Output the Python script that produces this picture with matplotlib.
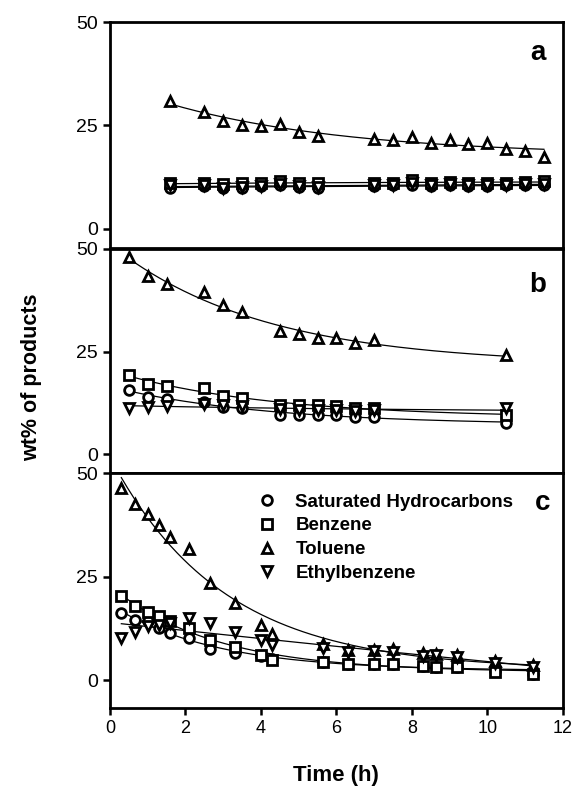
import numpy as np
import matplotlib
matplotlib.use('Agg')
import matplotlib.pyplot as plt

plt.rcParams['font.family'] = ['Liberation Sans', 'DejaVu Sans']

# ---- data ----
# panel a
time_a = [1.6, 2.5, 3, 3.5, 4, 4.5, 5, 5.5, 7, 7.5, 8, 8.5, 9, 9.5, 10, 10.5, 11, 11.5]
sat_a = [10.0, 10.3, 9.8, 10.0, 10.3, 10.5, 10.2, 10.0, 10.3, 10.5, 10.5, 10.3, 10.5, 10.3, 10.3, 10.5, 10.5, 10.6]
benz_a = [11.0, 11.0, 10.8, 11.0, 11.2, 11.5, 11.0, 11.0, 11.0, 11.2, 11.8, 11.2, 11.3, 11.2, 11.2, 11.2, 11.3, 11.5]
tol_a = [31.0, 28.3, 26.1, 25.1, 24.9, 25.3, 23.5, 22.5, 21.7, 21.6, 22.1, 20.8, 21.5, 20.5, 20.7, 19.4, 18.9, 17.3]
eth_a = [10.5, 10.5, 9.8, 10.2, 10.3, 10.8, 10.3, 10.2, 10.5, 10.6, 11.0, 10.5, 10.8, 10.5, 10.5, 10.7, 10.8, 10.9]

# panel b
time_b = [0.5, 1, 1.5, 2.5, 3, 3.5, 4.5, 5, 5.5, 6, 6.5, 7, 10.5]
sat_b = [15.7, 14.0, 13.4, 12.8, 11.6, 11.2, 9.6, 9.6, 9.6, 9.6, 9.1, 9.1, 7.7]
benz_b = [19.4, 17.2, 16.7, 16.1, 14.2, 13.6, 12.0, 12.0, 12.0, 11.8, 11.2, 11.2, 9.6]
tol_b = [48.0, 43.3, 41.5, 39.5, 36.3, 34.6, 30.0, 29.2, 28.4, 28.4, 27.1, 27.7, 24.2]
eth_b = [11.3, 11.5, 11.8, 12.2, 12.0, 11.8, 11.0, 10.8, 10.8, 10.8, 10.6, 10.8, 11.2]

# panel c
time_c = [0.3, 0.65, 1.0, 1.3, 1.6, 2.1, 2.65, 3.3, 4.0, 4.3, 5.65, 6.3, 7.0, 7.5, 8.3, 8.65, 9.2, 10.2, 11.2]
sat_c = [16.2, 14.6, 14.2, 12.5, 11.3, 10.1, 7.4, 6.5, 5.8, 5.0, 4.4, 4.0, 3.9, 3.9, 3.4, 3.2, 3.1, 2.3, 1.5]
benz_c = [20.4, 17.8, 16.4, 15.4, 14.2, 12.5, 9.7, 7.9, 6.1, 4.9, 4.4, 4.0, 4.0, 4.0, 3.4, 3.2, 3.2, 2.0, 1.5]
tol_c = [46.5, 42.6, 40.2, 37.5, 34.5, 31.7, 23.5, 18.7, 13.2, 11.2, 8.8, 7.3, 7.3, 7.4, 6.5, 6.3, 6.0, 4.7, 3.6]
eth_c = [10.1, 11.5, 13.0, 13.3, 13.8, 15.0, 13.7, 11.6, 9.6, 8.5, 7.8, 6.8, 7.0, 6.8, 5.8, 6.0, 5.6, 4.2, 3.2]

labels = ['Saturated Hydrocarbons', 'Benzene', 'Toluene', 'Ethylbenzene']
markers = ['o', 's', '^', 'v']


def decay_fit(t, y):
    # least squares fit of y = a + b*exp(-k t), k from a grid
    t = np.asarray(t, float)
    y = np.asarray(y, float)
    best = None
    for k in np.linspace(0.01, 2.0, 300):
        A = np.column_stack([np.ones_like(t), np.exp(-k * t)])
        coef = np.linalg.lstsq(A, y, rcond=None)[0]
        err = np.sum((A @ coef - y) ** 2)
        if best is None or err < best[0]:
            best = (err, k, coef)
    _, k, (a, b) = best
    tt = np.linspace(t.min(), t.max(), 200)
    return tt, a + b * np.exp(-k * tt)


fig = plt.figure(figsize=(5.76, 7.86), dpi=100)
left, width = 0.191, 0.786
boxes = [(0.6845, 0.2875), (0.398, 0.2855), (0.099, 0.299)]
ylims = [(-4.6, 50), (-4.6, 50), (-6.8, 50)]
panels = [
    (time_a, [sat_a, benz_a, tol_a, eth_a], 'a', 0.945, 0.863),
    (time_b, [sat_b, benz_b, tol_b, eth_b], 'b', 0.945, 0.84),
    (time_c, [sat_c, benz_c, tol_c, eth_c], 'c', 0.955, 0.875),
]

axes = []
for i, ((bot, h), (t, series, letter, lx, ly)) in enumerate(zip(boxes, panels)):
    ax = fig.add_axes([left, bot, width, h])
    axes.append(ax)
    for y, m, lab in zip(series, markers, labels):
        tt, yy = decay_fit(t, y)
        ax.plot(tt, yy, color='black', lw=0.9, zorder=2)
        ax.plot(t, y, linestyle='none', marker=m, ms=7, mfc='white',
                mec='black', mew=2.0, label=lab, zorder=3)
    ax.set_xlim(0, 12)
    ax.set_ylim(*ylims[i])
    ax.set_yticks([0, 25, 50])
    ax.tick_params(axis='y', direction='out', length=5, width=1.8,
                   labelsize=14, right=False)
    for s in ax.spines.values():
        s.set_linewidth(2.0)
    ax.text(lx, ly, letter, transform=ax.transAxes, fontsize=20,
            fontweight='bold', ha='center', va='center')
    if i < 2:
        ax.tick_params(axis='x', bottom=False, labelbottom=False)
    else:
        ax.set_xticks(np.arange(0, 13, 2))
        ax.tick_params(axis='x', direction='out', length=5, width=1.8,
                       labelsize=13, top=False)
        ax.set_xlabel('Time (h)', fontsize=16, fontweight='bold', labelpad=20)
        ax.legend(loc='upper left', bbox_to_anchor=(0.31, 0.945), frameon=False,
                  handlelength=1.0, handletextpad=1.0, labelspacing=0.35,
                  borderaxespad=0, prop={'weight': 'bold', 'size': 13.5})

fig.text(0.055, 0.52, 'wt% of products', rotation=90, fontsize=15.5,
         fontweight='bold', ha='center', va='center')

fig.savefig('out.png', dpi=100)
